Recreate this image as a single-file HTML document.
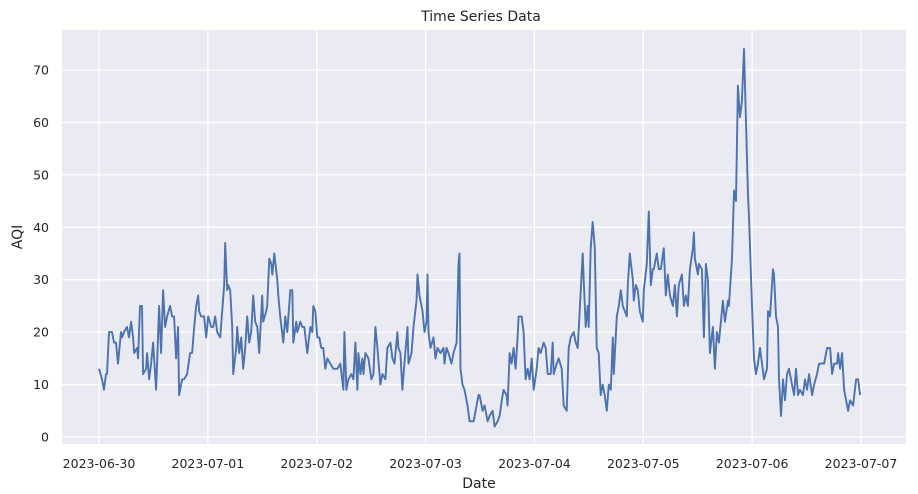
<!DOCTYPE html>
<html><head><meta charset="utf-8"><style>
html,body{margin:0;padding:0;background:#fff;}
svg{display:block;font-family:"DejaVu Sans","Liberation Sans",sans-serif;}
</style></head><body>
<svg id="chart" width="918" height="494">
<rect x="0" y="0" width="918" height="494" fill="#fff"/>
<rect x="62" y="30" width="844" height="414" fill="#EAEAF2"/>
<g id="grid"></g>
<g id="series"></g>
<g id="ticks"></g>
<text x="481" y="21" text-anchor="middle" font-size="14" fill="#262626">Time Series Data</text>
<text x="479" y="488" text-anchor="middle" font-size="14" fill="#262626">Date</text>
<text transform="translate(22,237) rotate(-90)" text-anchor="middle" font-size="14" fill="#262626">AQI</text>
</svg>
<script>
const xTickLabels = ["2023-06-30","2023-07-01","2023-07-02","2023-07-03","2023-07-04","2023-07-05","2023-07-06","2023-07-07"];
const xTickHours = [0,24,48,72,96,120,144,168];
const yTickValues = [0,10,20,30,40,50,60,70];
const hours = [0,0.66,1.1,1.55,1.77,2.21,2.87,3.31,3.75,4.2,4.86,5.08,5.52,6.18,6.62,7.07,7.51,7.73,8.39,8.61,9.05,9.49,9.72,10.38,10.6,11.04,11.48,11.92,12.59,12.81,13.25,13.69,14.13,14.57,15.01,15.68,16.12,16.56,17,17.44,17.66,18.33,18.77,19.43,20.09,20.53,20.98,21.42,21.86,22.08,22.52,23.18,23.63,24.07,24.73,25.17,25.61,26.05,26.72,27.16,27.6,27.82,28.26,28.48,28.92,29.37,29.59,30.25,30.47,30.91,31.35,31.8,32.24,32.68,33.12,33.56,34,34.44,34.89,35.33,35.99,36.21,36.87,37.09,37.54,37.98,38.2,38.64,39.3,39.52,39.96,
40.63,41.07,41.51,42.17,42.61,42.84,43.5,43.72,44.38,44.82,45.26,45.93,46.59,47.03,47.25,47.69,48.13,48.58,49.02,49.46,49.9,50.34,51,51.67,52.55,53.21,53.88,54.1,54.54,54.98,55.64,56.08,56.52,56.97,57.19,57.63,58.07,58.29,58.73,59.4,60.06,60.5,60.94,61.38,62.05,62.49,63.15,63.59,64.25,64.69,65.14,65.8,66.02,66.46,66.9,67.34,68.01,68.23,68.89,69.33,69.99,70.21,70.66,71.32,71.76,72.2,72.42,72.64,73.08,73.75,74.19,74.63,75.29,75.96,76.18,76.62,77.06,77.72,78.16,78.83,79.27,79.49,79.71,80.15,80.59,81.25,81.7,82.58,83.02,83.68,
83.9,84.57,85.01,85.67,86.11,86.77,87.22,87.88,88.32,88.98,89.2,89.87,90.09,90.53,90.97,91.41,91.85,92.29,92.52,93.18,93.62,94.06,94.5,94.94,95.39,95.83,96.49,96.93,97.37,98.04,98.48,98.92,99.58,100.02,100.24,100.91,101.35,102.01,102.45,103.11,103.56,104,104.66,105.1,105.54,105.98,106.65,106.87,107.31,107.75,107.97,108.41,108.85,109.3,109.74,110.18,110.62,111.06,111.5,111.95,112.39,112.83,113.27,113.49,114.15,114.6,115.04,115.48,115.92,116.36,116.58,117.02,117.69,117.91,118.35,118.79,119.23,119.89,120.12,120.78,121.22,121.66,122.1,122.32,122.99,123.43,
123.87,124.53,124.97,125.41,125.86,126.52,126.96,127.4,127.84,128.51,128.95,129.39,129.83,130.27,130.93,131.16,131.38,132.04,132.26,132.92,133.36,133.8,134.25,134.69,135.35,135.79,136.23,136.68,137.56,138,138.66,138.88,139.55,139.99,140.43,140.87,141.31,141.75,142.2,142.64,143.08,143.3,143.96,144.4,144.84,145.29,145.73,146.17,146.61,147.27,147.49,147.93,148.6,148.82,149.26,149.7,149.92,150.36,150.81,151.25,151.69,152.13,152.79,153.24,153.68,154.12,154.56,155.22,155.66,156.11,156.55,157.21,157.65,158.31,158.76,159.42,159.86,160.52,161.18,161.63,162.07,162.73,162.95,163.39,163.83,164.28,164.72,165.16,165.6,166.26,166.93,167.37,167.81];
const aqi = [13,11,9,12,12,20,20,18,18,14,20,19,20,21,19,22,19,16,17,15,25,25,12,13,16,11,14,18,9,14,25,16,28,21,23,25,23,23,15,21,8,11,11,12,16,16,21,25,27,24,23,23,19,23,21,21,23,20,19,24,29,37,28,29,28,21,12,17,21,16,19,13,17,23,18,20,27,22,21,16,27,22,24,25,34,33,31,35,30,27,23,
18,23,20,28,28,18,22,20,22,21,21,16,21,20,25,24,19,19,17,17,13,15,14,13,13,14,9,20,9,11,12,11,18,9,16,12,15,12,16,15,11,12,21,17,10,12,11,17,18,15,14,20,17,16,9,14,21,14,16,21,26,31,27,24,20,22,31,20,17,19,15,17,16,17,14,17,16,14,16,18,33,35,13,10,9,6,3,3,5,8,
8,5,6,3,4,5,2,3,4,8,9,8,6,16,14,17,13,19,23,23,20,11,13,11,15,9,13,17,16,18,17,12,12,18,12,14,15,13,6,5,17,19,20,18,17,24,35,30,21,25,21,36,41,36,17,16,8,10,8,5,10,9,19,12,23,25,28,25,24,23,29,35,30,26,29,28,24,22,28,33,43,29,32,32,35,32,
32,36,27,31,27,25,29,23,29,31,25,27,25,32,36,39,34,31,33,32,19,33,30,16,21,13,20,18,26,22,26,25,34,47,45,67,61,64,74,60,46,42,25,15,12,14,17,14,11,13,24,23,32,31,23,21,11,4,11,7,12,13,10,8,13,8,9,8,11,9,12,8,10,12,14,14,14,17,17,12,14,14,16,13,16,9,7,5,7,6,11,11,8];

const NS = "http://www.w3.org/2000/svg";
const X0 = 99, X1 = 861, Y0 = 437, Y70 = 70;
function xScale(h){ return X0 + (h - 0) / 168 * (X1 - X0); }
function yScale(v){ return Y0 + v / 70 * (Y70 - Y0); }
const grid = document.getElementById('grid');
const ticks = document.getElementById('ticks');
const series = document.getElementById('series');

yTickValues.forEach(v => {
  const y = yScale(v);
  const l = document.createElementNS(NS, 'line');
  l.setAttribute('x1', 62); l.setAttribute('x2', 906);
  l.setAttribute('y1', y); l.setAttribute('y2', y);
  l.setAttribute('stroke', '#fff'); l.setAttribute('stroke-width', '1.3');
  
  
  grid.appendChild(l);
  const t = document.createElementNS(NS, 'text');
  t.setAttribute('x', 49); t.setAttribute('y', y + 4.5);
  t.setAttribute('text-anchor', 'end'); t.setAttribute('font-size', '12.5'); t.setAttribute('fill', '#262626');
  t.textContent = v;
  
  
  ticks.appendChild(t);
});
xTickHours.forEach((h, i) => {
  const x = xScale(h);
  const l = document.createElementNS(NS, 'line');
  l.setAttribute('x1', x); l.setAttribute('x2', x);
  l.setAttribute('y1', 30); l.setAttribute('y2', 444);
  l.setAttribute('stroke', '#fff'); l.setAttribute('stroke-width', '1.3');
  
  
  grid.appendChild(l);
  const t = document.createElementNS(NS, 'text');
  t.setAttribute('x', x); t.setAttribute('y', 468);
  t.setAttribute('text-anchor', 'middle'); t.setAttribute('font-size', '12.5'); t.setAttribute('fill', '#262626');
  t.textContent = xTickLabels[i];
  
  
  ticks.appendChild(t);
});
const pts = hours.map((h, i) => xScale(h).toFixed(1) + ',' + yScale(aqi[i]).toFixed(1)).join(' ');
const pl = document.createElementNS(NS, 'polyline');
pl.setAttribute('points', pts);
pl.setAttribute('fill', 'none'); pl.setAttribute('stroke', '#4C72B0');
pl.setAttribute('stroke-width', '1.9'); pl.setAttribute('stroke-linejoin', 'round');


series.appendChild(pl);
</script>
</body></html>
